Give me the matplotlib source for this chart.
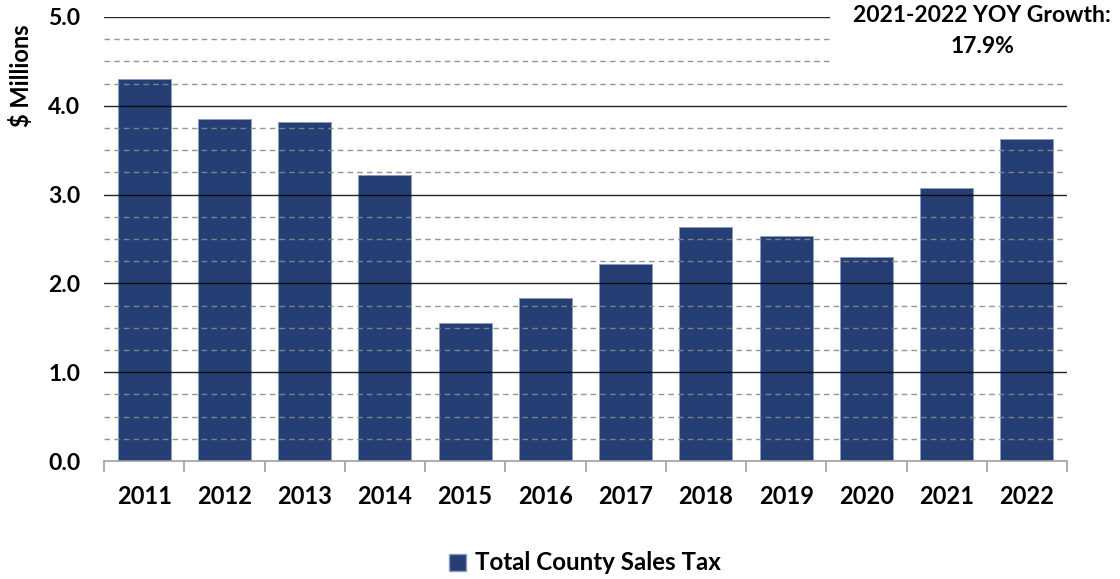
import matplotlib
matplotlib.use("Agg")
import matplotlib.pyplot as plt
import numpy as np
from matplotlib.patches import Rectangle, Patch

plt.rcParams['font.family'] = ['Lato', 'DejaVu Sans']
plt.rcParams['font.weight'] = 'bold'

years = ['2011', '2012', '2013', '2014', '2015', '2016', '2017', '2018', '2019', '2020', '2021', '2022']
values = [4.30, 3.85, 3.82, 3.22, 1.55, 1.84, 2.22, 2.64, 2.53, 2.30, 3.07, 3.63]
series_name = 'Total County Sales Tax'
annotation = '2021-2022 YOY Growth:\n17.9%'
bar_color = '#253F74'

fig = plt.figure(figsize=(11.2, 5.79), dpi=100)
ax = fig.add_axes([104/1120, 1 - 461/579, (1067-104)/1120, (461-17)/579])

x = np.arange(len(years))
ax.bar(x, values, width=0.66, color=bar_color, edgecolor='#8a9cc0', linewidth=0.6, zorder=2)

ax.set_xlim(-0.5, len(years) - 0.5)
ax.set_ylim(0, 5.0)

# gridlines
for v in np.arange(0.25, 5.01, 0.25):
    if abs(v - round(v)) < 1e-6:
        ax.axhline(v, color='black', lw=1.0, zorder=3, alpha=0.85)
    else:
        ax.axhline(v, color='#888888', lw=1.0, ls=(0, (4, 3)), zorder=3, alpha=0.9)

ax.set_yticks(np.arange(0, 5.01, 1.0))
ax.set_yticklabels([f'{v:.1f}' for v in np.arange(0, 5.01, 1.0)], fontsize=16.5, fontweight='bold')
ax.tick_params(axis='y', length=0, pad=17)

ax.set_xticks(x)
ax.set_xticklabels(years, fontsize=17, fontweight='bold')
ax.tick_params(axis='x', length=0, pad=17)
ax.set_xticks(np.arange(-0.5, len(years)), minor=True)
ax.tick_params(axis='x', which='minor', length=8, color='#a0a0a0', width=1.2)

for s in ['top', 'right', 'left']:
    ax.spines[s].set_visible(False)
ax.spines['bottom'].set_color('#a0a0a0')
ax.spines['bottom'].set_linewidth(1.2)
ax.spines['bottom'].set_zorder(4)

ax.set_ylabel('$ Millions', fontsize=17, fontweight='bold')
ax.yaxis.set_label_coords(-0.074, 0.867)

# annotation box covering gridlines
fig.patches.append(Rectangle((830/1120, 1 - 68/579), 290/1120, 68/579,
                             transform=fig.transFigure, facecolor='white',
                             edgecolor='none', zorder=5))
fig.text(982/1120, 1 - 5/579, annotation, ha='center', va='top',
         fontsize=16.5, fontweight='bold', linespacing=1.6, zorder=6)

handles = [Patch(facecolor=bar_color, edgecolor='#8a9cc0', label=series_name)]
fig.legend(handles=handles, loc='center', bbox_to_anchor=(585/1120, 1 - 563/579),
           frameon=False, prop={'size': 17.4, 'weight': 'bold'},
           handlelength=0.7, handleheight=0.7, handletextpad=0.4)

fig.savefig('out.png', dpi=100)
